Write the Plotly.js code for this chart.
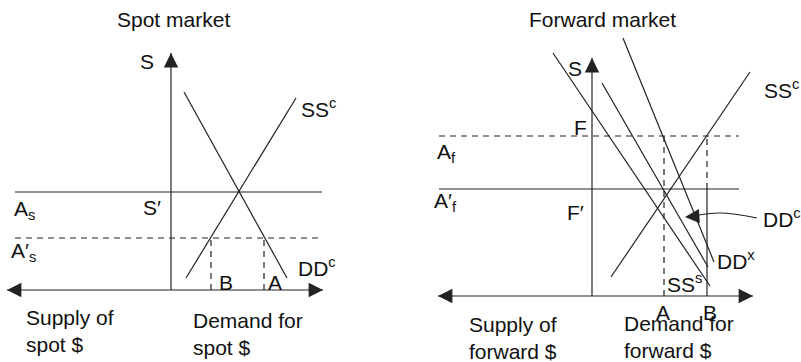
<!DOCTYPE html>
<html>
<head>
<meta charset="utf-8">
<script src="https://cdn.plot.ly/plotly-3.0.1.min.js"></script>
<style>
  html, body { margin: 0; padding: 0; background: #fff; }
  #chart { width: 801px; height: 362px; }
</style>
</head>
<body>
<div id="chart"></div>
<script>
// Spot market (origin = where the axes cross, y up)
var spotDDx = [13, 116], spotDDy = [198, 12];
var spotSSx = [15, 125], spotSSy = [12, 192];
var spotRates = [98, 52];          // A_s (solid), A'_s (dashed)
var spotQty = [40, 93];            // B, A
var spotRateX = [-156, 151];
var spotAxisX = [-164, 152], spotAxisTop = 237;

// Forward market
var fwdSSCx = [19, 158], fwdSSCy = [19, 224];
var fwdSSSx = [-39, 118], fwdSSSy = [243, 10];
var fwdDDCx = [10, 116], fwdDDCy = [213, 29];
var fwdDDXx = [31, 122], fwdDDXy = [258, 34];
var fwdRates = [160, 107];         // A_f (dashed), A'_f (solid)
var fwdQty = [72, 115];            // A, B
var fwdRateX = [-153, 147];
var fwdAxisX = [-154, 161], fwdAxisTop = 238;
var pointerX = [165, 128, 95], pointerY = [78, 83, 79];

var ink = '#222';
var font = { family: 'Liberation Sans, Arial, sans-serif', size: 21, color: '#111' };

function seg(xs, ys, p, dash) {
    return {
        type: 'scatter', mode: 'lines', x: xs, y: ys,
        xaxis: 'x' + p, yaxis: 'y' + p,
        line: { color: ink, width: 1.2, dash: dash || 'solid', shape: 'spline' },
        hoverinfo: 'skip', showlegend: false
    };
}
var DASH = '6px,5px';

var data = [
    // spot
    seg(spotAxisX, [0, 0], ''),
    seg([0, 0], [0, spotAxisTop], ''),
    seg(spotRateX, [spotRates[0], spotRates[0]], ''),
    seg(spotRateX, [spotRates[1], spotRates[1]], '', DASH),
    seg(spotDDx, spotDDy, ''),
    seg(spotSSx, spotSSy, ''),
    seg([spotQty[0], spotQty[0]], [0, spotRates[1]], '', DASH),
    seg([spotQty[1], spotQty[1]], [0, spotRates[1]], '', DASH),
    // forward
    seg(fwdAxisX, [0, 0], '2'),
    seg([0, 0], [0, fwdAxisTop], '2'),
    seg(fwdRateX, [fwdRates[0], fwdRates[0]], '2', DASH),
    seg(fwdRateX, [fwdRates[1], fwdRates[1]], '2'),
    seg(fwdSSCx, fwdSSCy, '2'),
    seg(fwdSSSx, fwdSSSy, '2'),
    seg(fwdDDCx, fwdDDCy, '2'),
    seg(fwdDDXx, fwdDDXy, '2'),
    seg([fwdQty[0], fwdQty[0]], [0, fwdRates[0]], '2', DASH),
    seg([fwdQty[1], fwdQty[1]], [fwdRates[1], fwdRates[0]], '2', DASH),
    seg([fwdQty[1], fwdQty[1]], [0, fwdRates[1]], '2'),
    seg(pointerX, pointerY, '2')
];

function head(x, y, fromX, fromY, p) {
    return {
        x: x, y: y, ax: fromX, ay: fromY,
        xref: 'x' + p, yref: 'y' + p, axref: 'x' + p, ayref: 'y' + p,
        text: '', showarrow: true, arrowhead: 2, arrowsize: 2.4,
        arrowwidth: 1.2, arrowcolor: ink, standoff: 0
    };
}
function label(t, x, y, p, anchor) {
    return {
        text: t, x: x, y: y, xref: 'x' + p, yref: 'y' + p,
        showarrow: false, xanchor: anchor || 'left', yanchor: 'middle',
        align: 'left', font: font
    };
}

var annotations = [
    head(spotAxisX[1], 0, spotAxisX[1] - 10, 0, ''),
    head(spotAxisX[0], 0, spotAxisX[0] + 10, 0, ''),
    head(0, spotAxisTop, 0, spotAxisTop - 10, ''),
    head(fwdAxisX[1], 0, fwdAxisX[1] - 10, 0, '2'),
    head(fwdAxisX[0], 0, fwdAxisX[0] + 10, 0, '2'),
    head(0, fwdAxisTop, 0, fwdAxisTop - 10, '2'),
    head(pointerX[2] - 2, pointerY[2], pointerX[2] + 6, pointerY[2] + 0.5, '2'),

    label('Spot market', 2, 271, '', 'center'),
    label('S', -24, 229, '', 'center'),
    label('SS<sup>c</sup>', 128, 182, ''),
    label('DD<sup>c</sup>', 125, 23, ''),
    label('A<sub>s</sub>', -159, 80, ''),
    label('A′<sub>s</sub>', -162, 38, ''),
    label('S′', -8, 83, '', 'right'),
    label('B', 55, 8, '', 'center'),
    label('A', 104, 8, '', 'center'),
    label('Supply of<br>spot $', -147, -41, ''),
    label('Demand for<br>spot $', 20, -44, ''),

    label('Forward market', 10, 277, '2', 'center'),
    label('S', -17, 228, '2', 'center'),
    label('F', -3, 169, '2', 'right'),
    label('A<sub>f</sub>', -157, 143, '2'),
    label('A′<sub>f</sub>', -160, 94, '2'),
    label('F′', -17, 84, '2', 'center'),
    label('SS<sup>c</sup>', 170, 207, '2'),
    label('DD<sup>c</sup>', 169, 78, '2'),
    label('DD<sup>x</sup>', 123, 36, '2'),
    label('SS<sup>s</sup>', 73, 13, '2'),
    label('A', 71, -16, '2', 'center'),
    label('B', 118, -16, '2', 'center'),
    label('Supply of<br>forward $', -125, -42, '2'),
    label('Demand for<br>forward $', 30, -41, '2')
];

var hidden = { visible: false, fixedrange: true };

var layout = {
    width: 801,
    height: 362,
    margin: { l: 0, r: 0, t: 0, b: 0 },
    paper_bgcolor: '#fff',
    plot_bgcolor: '#fff',
    showlegend: false,
    dragmode: false,
    xaxis: Object.assign({ domain: [0, 400 / 801], range: [-171, 229] }, hidden),
    yaxis: Object.assign({ domain: [0, 1], range: [-72, 290] }, hidden),
    xaxis2: Object.assign({ domain: [400 / 801, 1], range: [-192, 209], anchor: 'y2' }, hidden),
    yaxis2: Object.assign({ domain: [0, 1], range: [-66, 296], anchor: 'x2' }, hidden),
    annotations: annotations
};

Plotly.newPlot('chart', data, layout, { displayModeBar: false, staticPlot: true });
</script>
</body>
</html>
